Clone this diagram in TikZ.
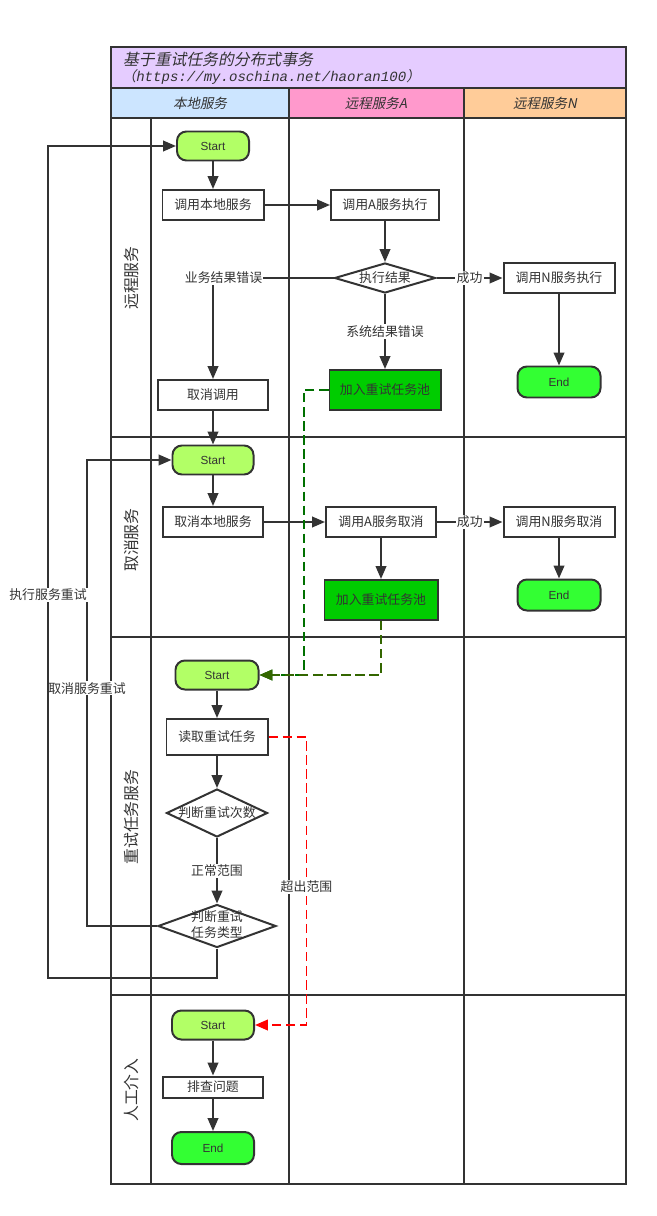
\documentclass[tikz,border=0pt]{standalone}
\usepackage{fontspec}
\setmainfont{Noto Sans CJK SC}
\newfontfamily\titlefont[FakeSlant=0.2]{Noto Sans CJK SC}
\newfontfamily\urlfont{Liberation Mono}
\newfontfamily\latinfont{Liberation Sans}
\usepackage{tikz}
\usetikzlibrary{positioning, arrows.meta, shapes.geometric}
\usepackage{xcolor}
\definecolor{ink}{HTML}{333333}
\definecolor{titlebg}{HTML}{E5CCFF}
\definecolor{localbg}{HTML}{CCE5FF}
\definecolor{remabg}{HTML}{FF99CC}
\definecolor{remnbg}{HTML}{FFCC99}
\definecolor{startgreen}{HTML}{B2FF66}
\definecolor{endgreen}{HTML}{33FF33}
\definecolor{poolgreen}{HTML}{00CC00}
\definecolor{retrygreen}{HTML}{007000}
\definecolor{olivegreen}{HTML}{336600}
\newcommand{\dmtext}[1]{\makebox[0pt]{#1}}

\begin{document}
\begin{tikzpicture}[
    x=0.03cm, y=-0.03cm,
    frame/.style={draw=ink, line width=1.7pt},
    box/.style={rectangle, draw=ink, fill=white, text=ink, line width=1.7pt, inner sep=0pt,
        minimum height=0.9cm, font=\fontsize{11}{13}\selectfont},
    term/.style={box, rounded corners=8pt, font=\latinfont\fontsize{10}{12}\selectfont},
    startn/.style={term, fill=startgreen, minimum height=0.87cm},
    endn/.style={term, fill=endgreen, minimum height=0.93cm},
    pool/.style={box, fill=poolgreen, minimum height=1.2cm},
    dec/.style={diamond, draw=ink, fill=white, text=ink, line width=1.7pt, inner sep=0pt,
        font=\fontsize{11}{14}\selectfont},
    flow/.style={draw=ink, line width=1.7pt, -{Triangle[length=11pt,width=9pt]}},
    back/.style={flow, dash pattern=on 8pt off 4pt},
    lbl/.style={fill=white, text=ink, inner sep=1pt, font=\fontsize{11}{13}\selectfont},
    lane/.style={rotate=90, text=ink, font=\fontsize{13.5}{15}\selectfont},
    head/.style={text=ink, font=\titlefont\fontsize{11.5}{13}\selectfont}
]
\useasboundingbox (0,0) rectangle (657,1216);

% Swimlanes
\fill[titlebg] (111,47) rectangle (626,88);
\fill[localbg] (111,88) rectangle (289,118);
\fill[remabg] (289,88) rectangle (464,118);
\fill[remnbg] (464,88) rectangle (626,118);
\draw[frame] (111,47) rectangle (626,1184);
\foreach \y in {88,118,437,637,995} \draw[frame] (111,\y) -- (626,\y);
\foreach \x in {289,464} \draw[frame] (\x,88) -- (\x,1184);
\draw[frame] (151,118) -- (151,1184);

% Title and headers
\node[head, anchor=west, font=\titlefont\fontsize{13.5}{15}\selectfont] (title) at (119,59) {基于重试任务的分布式事务};
\node[anchor=west, text=ink, inner sep=0pt] (url) at (122,77)
    {{\titlefont\fontsize{12}{14}\selectfont （}{\urlfont\itshape\fontsize{12}{14}\selectfont https://my.oschina.net/haoran100}{\titlefont\fontsize{12}{14}\selectfont ）}};
\node[head] (hlocal) at (200,103) {本地服务};
\node[head] (hrema) at (376,103) {远程服务A};
\node[head] (hremn) at (545,103) {远程服务N};

\node[lane] (lremote) at (131,278) {远程服务};
\node[lane] (lcancel) at (131,540) {取消服务};
\node[lane] (lretry) at (131,817) {重试任务服务};
\node[lane] (lmanual) at (131,1090) {人工介入};

% Nodes: remote call
\node[startn, minimum width=2.16cm] (s1) at (213,146) {Start};
\node[box, minimum width=3.03cm] (callloc) at (213,205) {调用本地服务};
\node[box, minimum width=3.24cm] (calla) at (385,205) {调用A服务执行};
\node[dec, minimum width=3.03cm, minimum height=0.9cm] (res) at (385,278) {\dmtext{执行结果}};
\node[box, minimum width=3.33cm] (calln) at (559,278) {调用N服务执行};
\node[endn, minimum width=2.49cm] (e1) at (559,382) {End};
\node[pool, minimum width=3.33cm] (pool1) at (385,390) {加入重试任务池};
\node[box, minimum width=3.3cm] (cancel) at (213,395) {取消调用};

% Nodes: cancel
\node[startn, minimum width=2.43cm] (s2) at (213,460) {Start};
\node[box, minimum width=3.0cm] (cancloc) at (213,522) {取消本地服务};
\node[box, minimum width=3.3cm] (canca) at (381,522) {调用A服务取消};
\node[box, minimum width=3.33cm] (cancn) at (559,522) {调用N服务取消};
\node[endn, minimum width=2.49cm] (e2) at (559,595) {End};
\node[pool, minimum width=3.39cm] (pool2) at (381,600) {加入重试任务池};

% Nodes: retry
\node[startn, minimum width=2.49cm] (s3) at (217,675) {Start};
\node[box, minimum width=3.03cm, minimum height=1.08cm] (read) at (217,737) {读取重试任务};
\node[dec, minimum width=3.03cm, minimum height=1.44cm] (cnt) at (217,813) {\dmtext{判断重试次数}};
\node[dec, minimum width=3.54cm, minimum height=1.29cm] (kind) at (217,926)
    {\dmtext{\begin{tabular}{@{}c@{}}判断重试\\任务类型\end{tabular}}};

% Nodes: manual
\node[startn, minimum width=2.46cm] (s4) at (213,1025) {Start};
\node[box, minimum width=3.0cm, minimum height=0.63cm] (check) at (213,1087) {排查问题};
\node[endn, minimum width=2.46cm, minimum height=0.96cm] (e4) at (213,1148) {End};

% Edges
\draw[flow] (s1) -- (callloc);
\draw[flow] (callloc) -- (calla);
\draw[flow] (calla) -- (res);
\draw[flow] (res) -- node[lbl] {成功} (calln);
\draw[flow] (calln) -- (e1);
\draw[flow] (res) -- node[lbl] {系统结果错误} (pool1);
\draw[flow] (res.west) -| node[lbl, pos=0.5, xshift=9pt] {业务结果错误} (cancel.north);
\draw[flow] (cancel) -- (s2);

\draw[flow] (s2) -- (cancloc);
\draw[flow] (cancloc) -- (canca);
\draw[flow] (canca) -- node[lbl] {成功} (cancn);
\draw[flow] (cancn) -- (e2);
\draw[flow] (canca) -- (pool2);

\draw[flow] (s3) -- (read);
\draw[flow] (read) -- (cnt);
\draw[flow] (cnt) -- node[lbl] {正常范围} (kind);

\draw[flow] (s4) -- (check);
\draw[flow] (check) -- (e4);

% Retry loops
\draw[flow] (kind.west) -- ++(-70,0) |- node[lbl, pos=0.255] {取消服务重试} (s2.west);
\draw[flow] (kind.south) -- ++(0,29) -- ++(-169,0) |- node[lbl, pos=0.23] {执行服务重试} (s1.west);

% Dashed back links
\draw[back, draw=retrygreen] (pool1.west) -- ++(-25,0) |- (s3.east);
\draw[back, draw=olivegreen] (pool2.south) |- (s3.east);
\draw[back, draw=red] (read.east) -- ++(38,0) |- node[lbl, pos=0.26] {超出范围} (s4.east);

\end{tikzpicture}
\end{document}
